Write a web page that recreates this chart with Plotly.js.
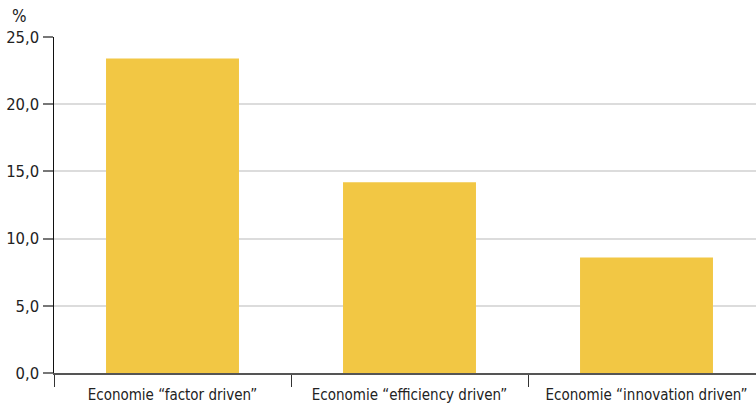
<!DOCTYPE html>
<html>
<head>
<meta charset="utf-8">
<script src="https://cdn.plot.ly/plotly-3.0.1.min.js"></script>
<style>html,body{margin:0;padding:0;background:#fff;}#chart{width:756px;height:405px;}</style>
</head>
<body>
<div id="chart"></div>
<script>
const categories = ['Economie “factor driven”', 'Economie “efficiency driven”', 'Economie “innovation driven”'];
const values = [23.4, 14.2, 8.6];
const yTicks = [0, 5, 10, 15, 20, 25];

const FONT = '"Liberation Sans Narrow", "DejaVu Sans Condensed", "Roboto Condensed", sans-serif';

Plotly.newPlot('chart', [{
  type: 'bar',
  x: categories,
  y: values,
  width: 0.561,
  marker: {color: '#F2C744', line: {width: 0}},
  hoverinfo: 'skip'
}], {
  width: 756, height: 405,
  margin: {l: 54, r: 0, t: 37, b: 32, pad: 0},
  paper_bgcolor: '#fff', plot_bgcolor: '#fff',
  separators: ',.',
  showlegend: false,
  font: {family: FONT, color: '#222'},
  xaxis: {
    type: 'category',
    range: [-0.5, 2.462],
    showline: true, linecolor: '#555', linewidth: 1.5,
    ticks: 'outside', tickson: 'boundaries', ticklen: 12, tickcolor: '#333', tickwidth: 1,
    tickfont: {family: FONT, size: 15, color: '#222'},
    ticklabelstandoff: 7,
    showgrid: false, zeroline: false,
    fixedrange: true
  },
  yaxis: {
    range: [0, 25],
    tickvals: yTicks,
    tickformat: '.1f',
    ticks: 'outside', ticklen: 10, tickcolor: '#777', tickwidth: 2,
    tickfont: {family: FONT, size: 16.5, color: '#222'},
    showline: true, linecolor: '#111', linewidth: 1.5,
    showgrid: true, gridcolor: '#dcdcdc', gridwidth: 2,
    zeroline: false,
    ticklabelstandoff: 0,
    fixedrange: true
  },
  annotations: [{
    text: '%', xref: 'paper', yref: 'paper', x: -0.063, y: 1.0, yshift: 9,
    xanchor: 'left', yanchor: 'bottom', showarrow: false,
    font: {family: FONT, size: 17, color: '#222'}
  }]
}, {displayModeBar: false, staticPlot: true});
</script>
</body>
</html>
